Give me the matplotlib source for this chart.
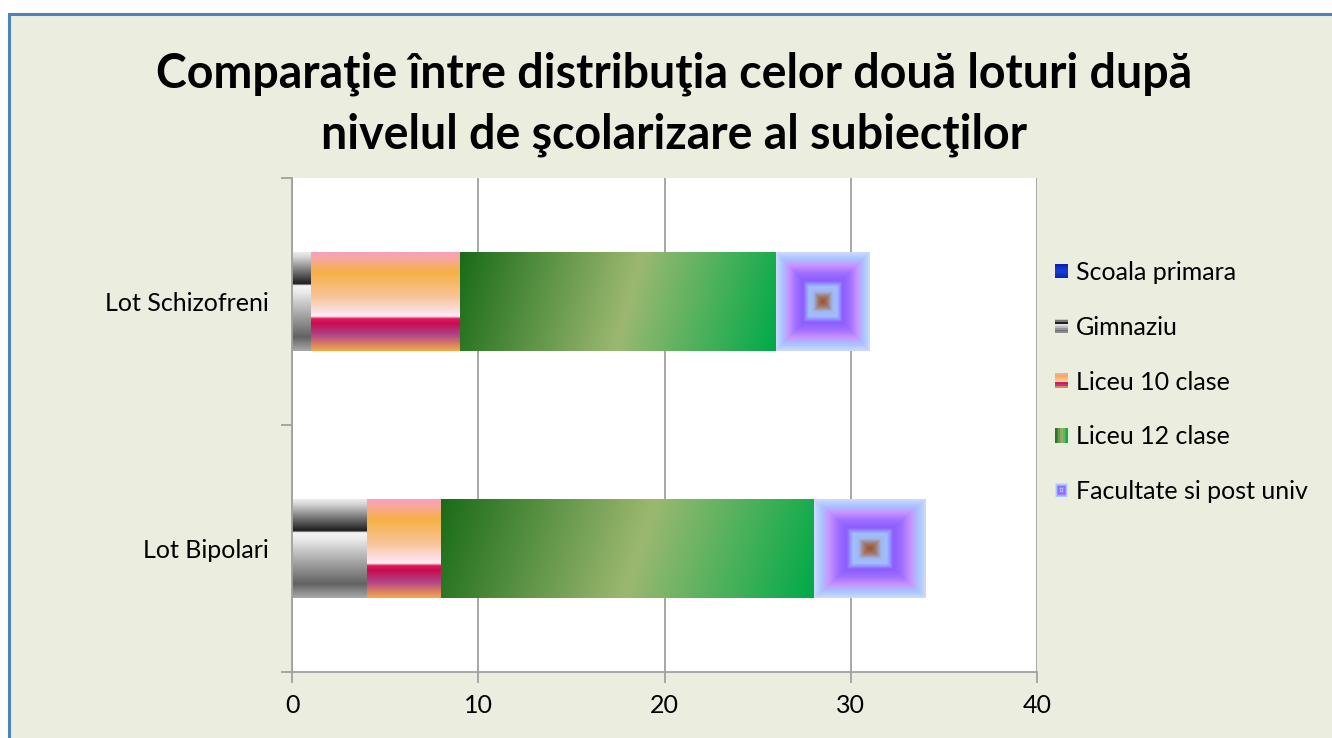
"""Comparatie intre distributia celor doua loturi dupa nivelul de scolarizare"""

import numpy as np
import matplotlib.pyplot as plt
from matplotlib.colors import LinearSegmentedColormap
from matplotlib.patches import Rectangle
from matplotlib.legend_handler import HandlerBase

plt.rcParams['font.family'] = ['Lato', 'DejaVu Sans']

# Data
categories = ['Lot Bipolari', 'Lot Schizofreni']
series = ['Scoala primara', 'Gimnaziu', 'Liceu 10 clase', 'Liceu 12 clase',
          'Facultate si post univ']
scoala_primara = [0, 0]
gimnaziu = [4, 1]
liceu_10 = [4, 8]
liceu_12 = [20, 17]
facultate = [6, 5]
values = [scoala_primara, gimnaziu, liceu_10, liceu_12, facultate]
x_ticks = [0, 10, 20, 30, 40]

title = 'Comparaţie între distribuţia celor două loturi după\nnivelul de şcolarizare al subiecţilor'

BG = '#ebeedf'


# Gradient colormaps (approximating the Excel fills)
def cmap(name, stops):
    return LinearSegmentedColormap.from_list(name, stops)


cm_gim = cmap('gim', [(0.0, '#ececec'), (0.05, '#d4d4d4'), (0.32, '#1c1c1c'),
                      (0.335, '#f6f6f6'), (0.40, '#ececec'), (0.86, '#626262'),
                      (1.0, '#a8a8a8')])
cm_l10 = cmap('l10', [(0.0, '#f8a0bc'), (0.07, '#f8a89c'), (0.20, '#f6b044'),
                      (0.45, '#f8c498'), (0.62, '#fde4ec'), (0.65, '#fff0f4'),
                      (0.675, '#e01c5c'), (0.72, '#c80c50'), (0.84, '#b04488'),
                      (1.0, '#f5a848')])
cm_l12 = cmap('l12', [(0.0, '#1a6c18'), (0.53, '#9cb870'), (1.0, '#00aa48')])
cm_fac = cmap('fac', [(0.0, '#a05030'), (0.10, '#a07868'), (0.20, '#a0b8f0'),
                      (0.30, '#a0c0ff'), (0.42, '#8c5cff'), (0.58, '#a070ff'),
                      (0.72, '#c890ff'), (0.88, '#a8c8ff'), (1.0, '#d0d8fc')])
cm_sp = cmap('sp', [(0.0, '#0a1ea0'), (0.5, '#1a3cdc'), (1.0, '#0a1ea0')])


def grad_field(kind, n=200):
    """Return a field in [0,1] of shape (n, n); row 0 is the top of the bar."""
    yy, xx = np.mgrid[0:1:n * 1j, 0:1:n * 1j]
    if kind == 'fac':
        return np.maximum(np.abs(xx - 0.5), np.abs(yy - 0.5)) / 0.5
    if kind == 'l12':
        return np.clip((xx + 0.085 * yy) / 1.085, 0, 1)
    return yy


kinds = ['sp', 'gim', 'l10', 'l12', 'fac']
cmaps = {'sp': cm_sp, 'gim': cm_gim, 'l10': cm_l10, 'l12': cm_l12, 'fac': cm_fac}


class GradientHandler(HandlerBase):
    def __init__(self, kind, n=8):
        super().__init__()
        self.kind = kind
        self.n = n

    def create_artists(self, legend, orig_handle, xdescent, ydescent,
                       width, height, fontsize, trans):
        cm = cmaps[self.kind]
        x0, y0 = -xdescent, -ydescent
        arts = []
        n = self.n
        if self.kind == 'fac':
            for i in range(n):
                f = 1 - i / n
                w, h = width * f, height * f
                arts.append(Rectangle((x0 + (width - w) / 2, y0 + (height - h) / 2), w, h,
                                      facecolor=cm(f), edgecolor='none', transform=trans))
        elif self.kind == 'l12':
            for i in range(n):
                arts.append(Rectangle((x0 + width * i / n, y0), width / n + 0.01, height,
                                      facecolor=cm((i + 0.5) / n), edgecolor='none',
                                      transform=trans))
        else:
            for i in range(n):
                arts.append(Rectangle((x0, y0 + height * (1 - (i + 1) / n)), width,
                                      height / n + 0.01,
                                      facecolor=cm((i + 0.5) / n), edgecolor='none',
                                      transform=trans))
        return arts


fig = plt.figure(figsize=(13.32, 7.38), dpi=100)
fig.patch.set_facecolor('white')
fig.patches.append(Rectangle((9 / 1332, -0.05), 1.1, 1 - 14 / 738 + 0.05,
                             transform=fig.transFigure, facecolor=BG,
                             edgecolor='#4f81bd', linewidth=2.2, zorder=-10))

ax = fig.add_axes([292 / 1332, 1 - 672 / 738, (1037 - 292) / 1332, (672 - 178) / 738])
ax.set_facecolor('white')

y = np.arange(len(categories))
left = np.zeros(len(categories))
bar_h = 0.4
handles = []
for name, vals, kind in zip(series, values, kinds):
    bars = ax.barh(y, vals, left=left, height=bar_h, color='none',
                   edgecolor='none', label=name, zorder=2)
    handles.append(bars)
    field = grad_field(kind)
    for b in bars:
        if b.get_width() <= 0:
            continue
        ax.imshow(cmaps[kind](field), extent=(b.get_x(), b.get_x() + b.get_width(),
                                              b.get_y(), b.get_y() + b.get_height()),
                  origin='upper', aspect='auto', interpolation='bilinear', zorder=2)
    left += np.array(vals)

ax.set_xlim(0, 40)
ax.set_ylim(-0.5, 1.5)
ax.set_xticks(x_ticks)
ax.set_yticks(y)
ax.set_yticklabels(categories)
ax.set_yticks([-0.5, 0.5, 1.5], minor=True)
ax.tick_params(axis='y', which='major', length=0, pad=17, labelsize=18)
ax.tick_params(axis='y', which='minor', length=8, color='#a0a0a0', width=1.3)
ax.tick_params(axis='x', length=8, color='#a0a0a0', width=1.3, labelsize=18, pad=8)
ax.grid(axis='x', color='#a0a0a0', linewidth=1.3, zorder=1)
ax.set_axisbelow(True)
for s in ['top', 'right']:
    ax.spines[s].set_visible(False)
for s in ['left', 'bottom']:
    ax.spines[s].set_color('#a0a0a0')
    ax.spines[s].set_linewidth(1.3)

fig.text(674 / 1332, 1 - 104 / 738, title, ha='center', va='center',
         fontsize=33.5, fontweight='bold', linespacing=1.45)

handler_map = {h: GradientHandler(k) for h, k in zip(handles, kinds)}
leg = fig.legend(handles, series, handler_map=handler_map,
                 loc='upper left', bbox_to_anchor=(1055 / 1332, 1 - 261 / 738),
                 frameon=False, fontsize=18, handlelength=0.52, handleheight=0.52,
                 handletextpad=0.32, labelspacing=1.27, borderpad=0, borderaxespad=0)

fig.savefig('out.png', dpi=100, facecolor=fig.get_facecolor())
